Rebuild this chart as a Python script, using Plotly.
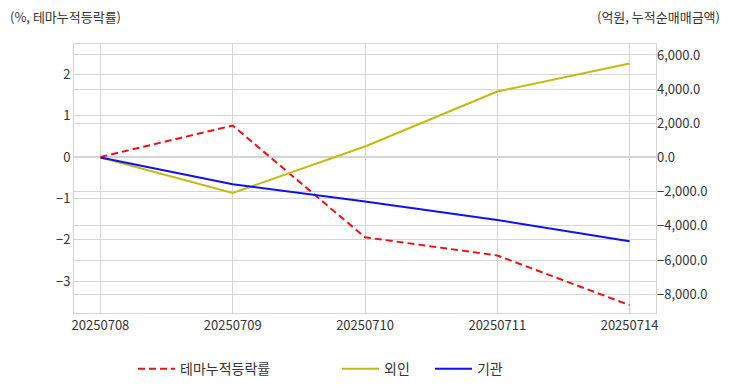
import plotly.graph_objects as go

dates = ["20250708", "20250709", "20250710", "20250711", "20250714"]
theme_rate = [0.0, 0.76, -1.94, -2.38, -3.58]
foreign = [0.0, -2080.0, 640.0, 3860.0, 5500.0]
institution = [0.0, -1570.0, -2570.0, -3660.0, -4900.0]

FONT = "Noto Sans CJK KR"
GRID = "#d4d4d4"

fig = go.Figure()
fig.add_trace(go.Scatter(x=dates, y=theme_rate, name="테마누적등락률", mode="lines",
                         line=dict(color="#ee1111", width=2, dash="7px,4px"), yaxis="y", legend="legend"))
fig.add_trace(go.Scatter(x=dates, y=foreign, name="외인", mode="lines",
                         line=dict(color="#c0bc14", width=2), yaxis="y2", legend="legend2"))
fig.add_trace(go.Scatter(x=dates, y=institution, name="기관", mode="lines",
                         line=dict(color="#1111ee", width=2), yaxis="y2", legend="legend3"))

def leg(x):
    return dict(orientation="h", xref="container", yref="container", x=x, y=0.058,
                xanchor="left", yanchor="middle", font=dict(size=14, color="#333333"),
                bgcolor="rgba(0,0,0,0)", itemwidth=37, visible=True)

fig.update_layout(
    width=732, height=392,
    showlegend=True,
    margin=dict(l=74, r=76, t=44, b=79),
    paper_bgcolor="white", plot_bgcolor="white",
    font=dict(family=FONT, size=13, color="#333333"),
    xaxis=dict(type="category", range=[-0.2, 4.2], showgrid=True, gridcolor=GRID,
               showline=True, linecolor=GRID, mirror=True, ticks="", tickfont=dict(size=13)),
    yaxis=dict(range=[-3.77, 2.73], dtick=1, showgrid=True, gridcolor=GRID, zeroline=False,
               showline=True, linecolor=GRID, mirror=True, tickfont=dict(size=13)),
    yaxis2=dict(range=[-9100, 6640], dtick=2000, tick0=0, overlaying="y", side="right",
                showgrid=True, gridcolor=GRID, zeroline=False, tickformat=",.1f",
                showline=False, tickfont=dict(size=13)),
    legend=leg(0.1817),
    legend2=leg(0.4604),
    legend3=leg(0.5874),
    annotations=[
        dict(text="(%, 테마누적등락률)", xref="paper", yref="paper", x=-0.113, y=1.104,
             xanchor="left", yanchor="middle", showarrow=False, font=dict(size=13, color="#333333")),
        dict(text="(억원, 누적순매매금액)", xref="paper", yref="paper", x=1.113, y=1.104,
             xanchor="right", yanchor="middle", showarrow=False, font=dict(size=13, color="#333333")),
    ],
)

fig.write_html("out.html", config={"displayModeBar": False},
               post_script="document.body.style.margin='0';document.body.style.padding='0';")
